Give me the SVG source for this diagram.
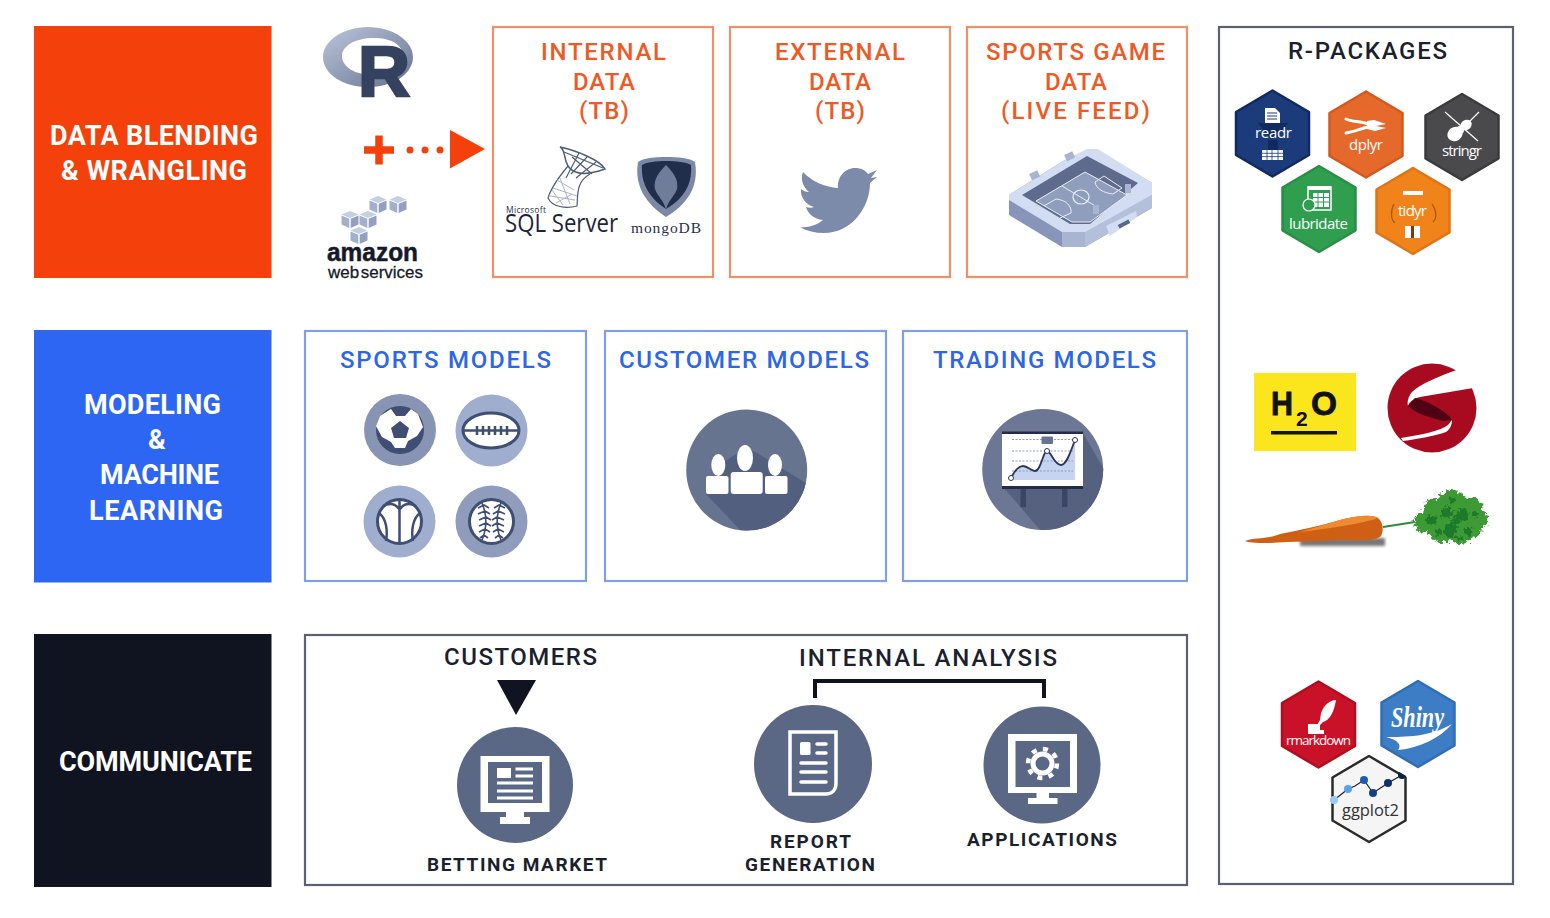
<svg xmlns="http://www.w3.org/2000/svg" xmlns:xlink="http://www.w3.org/1999/xlink" width="1550" height="918" viewBox="0 0 1550 918">
<style>
text{font-family:"Roboto","Liberation Sans",sans-serif}
.lbl{font-size:24px;font-weight:500}
.or{fill:#ee5a25}.bl{fill:#2d66e6}.dk{fill:#1b1f2e}
.head{font-size:27px;font-weight:700;fill:#fff}
.sub{font-size:19px;font-weight:700;fill:#1b1f2e}
.oBox{fill:#fff;stroke:#f0906a;stroke-width:2.2}
.bBox{fill:#fff;stroke:#7f9fe6;stroke-width:2.2}
.gBox{fill:#fff;stroke:#5c6074;stroke-width:2.2}
.hx{font-size:15px;fill:#fff;font-family:"Open Sans","Liberation Sans",sans-serif}
.w{fill:#fff}.ws{fill:none;stroke:#fff}
.sl{fill:#5a6885}
.ib{fill:none;stroke:#3f4e72;stroke-width:3}
</style>
<defs>
<polygon id="hex" points="0,-43 36.500,-21.500 36.500,21.500 0,43 -36.500,21.500 -36.500,-21.500" stroke-width="2.500" stroke-linejoin="round"/>
<g id="cube"><polygon points="0,-7 8.500,-3.500 0,0 -8.500,-3.500" fill="#c4cee4"/><polygon points="-8.500,-2.500 -0.700,0.800 -0.700,10 -8.500,6.500" fill="#a3afcb"/><polygon points="8.500,-2.500 0.700,0.800 0.700,10 8.500,6.500" fill="#93a0bf"/></g>
<linearGradient id="rg" x1="0" y1="0" x2="1" y2="1"><stop offset="0" stop-color="#bcc6dc"/><stop offset="1" stop-color="#66718f"/></linearGradient>
<clipPath id="cC"><circle cx="746.700" cy="470" r="60.500"/></clipPath>
<clipPath id="cT"><circle cx="1042.700" cy="469.500" r="60.500"/></clipPath>
<clipPath id="cG"><polygon points="1369,755 1408,777 1408,821 1369,843 1330,821 1330,777"/></clipPath>
<filter id="frill" x="-20%" y="-20%" width="140%" height="140%"><feTurbulence type="fractalNoise" baseFrequency="0.28" numOctaves="2" seed="4"/><feDisplacementMap in="SourceGraphic" scale="9" xChannelSelector="R" yChannelSelector="G"/></filter>
<filter id="soft" x="-20%" y="-100%" width="140%" height="300%"><feGaussianBlur stdDeviation="1.500"/></filter>
</defs>
<rect width="1550" height="918" fill="#fff"/>

<g id="data-blending"><rect x="34" y="26" width="237.500" height="252" fill="#f4400a"/>
<text class="head" x="50" y="145" textLength="208">DATA BLENDING</text>
<text class="head" x="61" y="180" textLength="186">&amp; WRANGLING</text></g>
<g id="modeling"><rect x="34" y="330" width="237.500" height="252.500" fill="#2c66f2"/>
<text class="head" x="84" y="414" textLength="137">MODELING</text>
<text class="head" x="148" y="449" textLength="16">&amp;</text>
<text class="head" x="100" y="484" textLength="119">MACHINE</text>
<text class="head" x="89" y="520" textLength="134">LEARNING</text></g>
<g id="communicate"><rect x="34" y="634" width="237.500" height="253" fill="#101420"/>
<text class="head" x="59" y="771" textLength="193">COMMUNICATE</text></g>

<g id="r-logo">
<path fill-rule="evenodd" fill="url(#rg)" d="M368,27C343,27 323,41 323,57C323,74 343,87 368,87C393,87 413,74 413,57C413,41 393,27 368,27ZM374,38C355,38 342,46 342,56C342,67 355,75 374,75C393,75 403,67 403,56C403,46 393,38 374,38Z"/>
<text x="358" y="95.500" font-size="70" font-weight="700" fill="#35425f" stroke="#35425f" stroke-width="2.500" style="font-family:'Liberation Sans',sans-serif" textLength="52" lengthAdjust="spacingAndGlyphs">R</text>
</g>
<g id="aws">
<use xlink:href="#cube" x="378" y="203"/><use xlink:href="#cube" x="398" y="203"/><use xlink:href="#cube" x="350" y="218"/><use xlink:href="#cube" x="368" y="218"/><use xlink:href="#cube" x="359" y="234"/>
<text x="327" y="261" font-size="25" font-weight="700" fill="#15192a" stroke="#15192a" stroke-width=".5" style="font-family:'Liberation Sans',sans-serif" textLength="91" lengthAdjust="spacingAndGlyphs">amazon</text>
<text x="328" y="278" font-size="17" fill="#15192a" stroke="#15192a" stroke-width=".3" style="font-family:'Liberation Sans',sans-serif;word-spacing:-3px" textLength="95" lengthAdjust="spacingAndGlyphs">web services</text>
</g>

<g id="internal-data"><rect class="oBox" x="493" y="27" width="220" height="250"/>
<text class="lbl or" x="541" y="60" textLength="125">INTERNAL</text>
<text class="lbl or" x="573" y="90" textLength="62">DATA</text>
<text class="lbl or" x="579" y="119" textLength="50">(TB)</text>
<g id="sql-logo" fill="none">
<path d="M560,147C566,150 563,158 568,166C573,174 585,176 605,169C600,160 575,150 560,147Z" stroke-width="1.500" stroke="#4f5c78"/>
<path d="M568,166C558,178 551,188 548,198C552,207 566,209 577,206C578,194 576,182 590,174M572,157L592,174M579,153L566,178M587,157L571,174M596,162L576,178M564,152L603,168" stroke="#4f5c78" stroke-width="1.200"/>
<path d="M550,196L575,200M553,188L577,196M557,180L574,190M556,203L572,194M563,205L552,190M570,204L560,178" stroke="#aab4c8"/>
</g>
<text x="506" y="213" font-size="8.500" fill="#2b3248" style="font-family:'Open Sans',sans-serif" textLength="40">Microsoft</text>
<text x="505" y="232" font-size="26" fill="#1c2438" style="font-family:'Open Sans',sans-serif" textLength="113" lengthAdjust="spacingAndGlyphs">SQL Server</text>
<g id="mongo-logo">
<path d="M666,157C678,157 690,158 695,162C698,180 694,200 666,217C640,200 635,180 638,162C643,158 655,157 666,157Z" fill="#7c88a6"/>
<path d="M666,161C676,161 686,162 691,165C692,180 688,196 666,209C646,196 641,180 642,165C647,162 656,161 666,161Z" fill="#202d4b"/>
<path d="M666,165C673,172 679,180 677,189C675,196 668,200 666,210C664,200 657,196 655,189C653,180 659,172 666,165Z" fill="#6f7d9a"/>
</g>
<text x="631" y="233" font-size="15.500" fill="#2b3248" style="font-family:'Liberation Serif',serif" textLength="70">mongoDB</text>
</g>

<g id="external-data"><rect class="oBox" x="730" y="27" width="220" height="250"/>
<text class="lbl or" x="775" y="60" textLength="130">EXTERNAL</text>
<text class="lbl or" x="809" y="90" textLength="62">DATA</text>
<text class="lbl or" x="815" y="119" textLength="50">(TB)</text>
<path fill="#7d8bab" d="M803,172C812,182 826,187 838,188C837,177 845,168 855,168C861,168 865,170 868,174L877,170L871,178L877,177L870,183C870,207 852,233 824,233C815,233 807,231 800,227C808,228 817,225 823,220C814,219 808,214 806,207C809,208 812,208 814,207C806,205 800,197 801,189C803,191 806,192 809,192C803,187 800,179 803,172Z"/>
</g>

<g id="sports-game-data"><rect class="oBox" x="967" y="27" width="220" height="250"/>
<text class="lbl or" x="986" y="60" textLength="179">SPORTS GAME</text>
<text class="lbl or" x="1045" y="90" textLength="62">DATA</text>
<text class="lbl or" x="1001" y="119" textLength="149">(LIVE FEED)</text>
<g id="stadium">
<polygon points="1009,195 1009,215 1062,247 1085,247 1152,208 1152,183 1098,150 1087,150 1063,161" fill="#8796b8"/>
<polygon points="1062,231 1062,247 1085,247 1085,231" fill="#a8b5d2"/>
<polygon points="1085,231 1085,247 1152,208 1152,195" fill="#b4c0da"/>
<polygon points="1009,195 1063,161 1087,149 1098,149 1152,183 1152,195 1085,232 1062,232 1009,200" fill="#d2dcf2"/>
<polygon points="1022,195 1087,156 1138,183 1090,224 1070,224" fill="#5f6b8c"/>
<polygon points="1036,201 1085,172 1127,195 1090,222 1072,222" fill="#909ebd"/>
<path d="M1036,201L1085,172L1127,195L1090,222L1072,222ZM1062,186L1097,207M1044,206L1056,199C1066,200 1072,206 1071,213L1060,218M1095,182L1104,176L1122,188L1113,194C1104,193 1096,189 1095,182Z" fill="none" stroke="#e8edf8" stroke-width="1"/>
<ellipse cx="1081" cy="197" rx="8" ry="7" fill="none" stroke="#e8edf8" stroke-width="1.200"/>
<rect x="1030" y="172" width="9" height="7" fill="#a8b5d2" transform="rotate(-25 1034 175)"/>
<rect x="1065" y="153" width="9" height="7" fill="#a8b5d2" transform="rotate(-25 1069 156)"/>
<rect x="1125" y="184" width="6" height="9" fill="#a8b5d2"/><rect x="1093" y="205" width="6" height="9" fill="#a8b5d2"/>
<polygon points="1106,226 1136,211 1137,217 1110,236" fill="#d2dcf2"/>
<rect x="1118" y="222" width="12" height="4" fill="#5a6885" transform="rotate(-28 1124 224)"/>
</g>
</g>

<g id="sports-models"><rect class="bBox" x="305" y="331" width="281" height="250"/>
<text class="lbl bl" x="340" y="368" textLength="211">SPORTS MODELS</text>
<g id="soccer"><circle cx="400" cy="430" r="36" fill="#8794b4"/><circle cx="400" cy="430" r="24" fill="#3f4e72"/>
<path class="w" d="M391,410L396,417L405,417L411,410L418,415L423,428L417,437L408,442L405,449L395,449L391,443L382,438L376,427L380,417Z" transform="translate(0,-1)"/><polygon points="400,421 409,428 406,438 394,438 391,428" fill="#3f4e72"/></g>
<g id="football"><circle cx="491.500" cy="430.500" r="36" fill="#9fadcf"/><ellipse class="w" cx="491" cy="430.500" rx="28" ry="17.500"/><ellipse class="ib" cx="491" cy="430.500" rx="28" ry="17.500"/>
<path class="ib" style="stroke-width:2.500" d="M464,430.500H518M477,426V435M483,426V435M489,426V435M495,426V435M501,426V435M507,426V435"/>
<path fill="none" stroke="#3f4e72" stroke-width="2" d="M474,418C472,425 472,436 474,443M508,418C510,425 510,436 508,443" opacity="0"/></g>
<g id="basketball"><circle cx="399.500" cy="521.500" r="36" fill="#9fadcf"/><circle class="w" cx="399.500" cy="521.500" r="22"/><circle class="ib" cx="399.500" cy="521.500" r="22"/>
<path class="ib" style="stroke-width:2.500" d="M399.500,500V543M379,513C386,518 388,530 386,541M420,513C413,518 411,530 413,541M383,506C391,502 396,505 399,509M416,506C408,502 403,505 400,509"/></g>
<g id="baseball"><circle cx="491.500" cy="521.500" r="36" fill="#8f9cbc"/><circle class="w" cx="491.500" cy="521.500" r="22"/><circle class="ib" cx="491.500" cy="521.500" r="22"/>
<path class="ib" style="stroke-width:1.600" d="M482,503C487,515 487,528 482,540M501,503C496,515 496,528 501,540M478,508L484,505L489,508M478,514L485,511L490,514M479,520L486,517L491,520M479,526L486,523L491,526M479,532L485,529L490,532M480,538L484,535L488,538M494,508L499,505L505,508M493,514L498,511L505,514M492,520L497,517L504,520M492,526L497,523L504,526M493,532L498,529L504,532M495,538L499,535L503,538"/></g>
</g>

<g id="customer-models"><rect class="bBox" x="605" y="331" width="281" height="250"/>
<text class="lbl bl" x="619" y="368" textLength="250">CUSTOMER MODELS</text>
<circle cx="746.700" cy="470" r="60.500" fill="#67748f"/>
<polygon clip-path="url(#cC)" points="706,494 724,462 745,448 757,453 806,483 815,540 745,535" fill="#525f7e"/>
<g class="w"><ellipse cx="718.300" cy="465" rx="7" ry="11"/><ellipse cx="745" cy="458" rx="8" ry="13"/><ellipse cx="775" cy="465" rx="7" ry="11"/>
<rect x="706" y="476" width="22.500" height="18" rx="2"/><rect x="730.700" y="472" width="32" height="22" rx="3"/><rect x="765" y="476" width="22.500" height="18" rx="2"/></g>
</g>

<g id="trading-models"><rect class="bBox" x="903" y="331" width="284" height="250"/>
<text class="lbl bl" x="933" y="368" textLength="223">TRADING MODELS</text>
<circle cx="1042.700" cy="469.500" r="60.500" fill="#6b7794"/>
<polygon clip-path="url(#cT)" points="1003,487 1042,532 1110,535 1110,480 1083,433 1083,487" fill="#55617f"/>
<rect x="1020.500" y="487" width="5.500" height="20" fill="#3a4666"/><rect x="1062" y="487" width="5.500" height="20" fill="#3a4666"/>
<rect x="1002" y="432" width="81" height="55" fill="#fff"/>
<rect x="1002" y="431.500" width="81" height="2.500" fill="#232c45"/><rect x="1002" y="486" width="81" height="3" fill="#232c45"/>
<path d="M1011,478C1015,470 1019,466 1023,466C1028,466 1031,471 1035,471C1041,471 1043,451 1047,451C1051,451 1054,465 1061,465C1067,465 1071,450 1075,440V480H1011Z" fill="#c6d4f2"/>
<path d="M1012,439.500H1073M1012,451H1073M1012,461H1073M1012,471H1073" stroke="#8f9dbd" stroke-dasharray="2 1.500" fill="none"/>
<path d="M1011,478C1015,470 1019,466 1023,466C1028,466 1031,471 1035,471C1041,471 1043,451 1047,451C1051,451 1054,465 1061,465C1067,465 1071,450 1075,440" fill="none" stroke="#2b3654" stroke-width="1.800"/>
<circle cx="1011" cy="478" r="2.500" fill="#fff" stroke="#2b3654"/><circle cx="1047" cy="451" r="2.500" fill="#fff" stroke="#2b3654"/><circle cx="1075" cy="440" r="2.500" fill="#fff" stroke="#2b3654"/>
<rect x="1041.500" y="436.500" width="11.500" height="7.500" rx="1" fill="#67748f"/>
</g>

<g id="communicate-box"><rect class="gBox" x="305" y="635" width="882" height="250"/>
<text class="lbl dk" x="444" y="665" textLength="153">CUSTOMERS</text>
<text class="lbl dk" x="799" y="666" textLength="258">INTERNAL ANALYSIS</text></g>

<g id="betting-market"><circle class="sl" cx="515" cy="785" r="58"/>
<rect class="w" x="480.500" y="756" width="69" height="56"/><rect class="sl" x="488" y="762" width="54" height="41"/>
<path class="w" d="M506,812H524V817H530V824H500V817H506Z"/>
<rect class="w" x="497" y="768" width="14" height="10"/>
<path class="ws" stroke-width="2.800" d="M515.500,769H533M515.500,776H533M497,783H533M497,791H533M497,798H533"/>
<text class="sub" x="427" y="871" textLength="180">BETTING MARKET</text></g>

<g id="report-generation"><circle class="sl" cx="813" cy="764" r="59"/>
<path class="ws" stroke-width="3.500" d="M790,732H836V783C836,790 832,794 826,794H790Z"/>
<rect class="w" x="800" y="742" width="10.500" height="13" rx="1.500"/>
<path class="ws" stroke-width="3.500" stroke-linecap="round" d="M817,744H826M817,753H826M801,763H826M801,772H826M801,782H826"/>
<text class="sub" x="770" y="848" textLength="81">REPORT</text>
<text class="sub" x="745" y="871" textLength="130">GENERATION</text></g>

<g id="applications"><circle class="sl" cx="1042" cy="765" r="58.500"/>
<rect class="w" x="1008" y="734" width="69" height="59"/><rect class="sl" x="1015.500" y="741" width="54.500" height="46"/>
<path class="w" d="M1036.500,793H1049V798H1057.500V804H1028V798H1036.500Z"/>
<circle cx="1042.500" cy="763.500" r="14.500" fill="none" stroke="#fff" stroke-width="4.500" stroke-dasharray="5 6.380"/>
<circle cx="1042.500" cy="763.500" r="9.500" fill="none" stroke="#fff" stroke-width="5"/>
<text class="sub" x="967" y="846" textLength="150">APPLICATIONS</text></g>

<g id="r-packages"><rect class="gBox" x="1219" y="27" width="294" height="857"/>
<text class="lbl dk" x="1288" y="59" textLength="159">R-PACKAGES</text></g>

<g id="readr"><use xlink:href="#hex" x="1272.500" y="133.500" fill="#1b3b7a" stroke="#122a60"/>
<polygon points="1258,123 1288,123 1276,138 1270,138" fill="#122a60"/><polygon points="1268,140 1278,140 1278,151 1268,151" fill="#122a60"/>
<path class="w" d="M1265,108H1275L1280,113V123H1265Z"/>
<path d="M1267,113H1277M1267,116H1277M1267,119H1277" stroke="#1b3b7a"/>
<rect class="w" x="1262" y="150" width="21" height="10"/><path d="M1262,153.300H1283M1262,156.600H1283M1267,150V160M1272,150V160M1278,150V160" stroke="#1b3b7a" stroke-width=".8"/>
<text class="hx" x="1255" y="138" textLength="37">readr</text></g>

<g id="dplyr"><use xlink:href="#hex" x="1366" y="134.500" fill="#e4692b" stroke="#d25a1f"/>
<path class="ws" stroke-width="3" stroke-linecap="round" d="M1346,119C1352,122 1360,121 1368,124M1346,133C1353,132 1360,129 1368,127"/>
<polygon class="w" points="1367,121 1374,120 1386,124 1376,126 1386,128 1375,131 1367,129"/>
<text class="hx" x="1349" y="150" textLength="34">dplyr</text></g>

<g id="stringr"><use xlink:href="#hex" x="1462" y="137" fill="#4a4a4c" stroke="#3b3b3d"/>
<ellipse class="w" cx="1455" cy="134" rx="8" ry="7" transform="rotate(-35 1455 134)"/><ellipse class="w" cx="1466" cy="125" rx="6" ry="5" transform="rotate(-35 1466 125)"/><circle class="w" cx="1460" cy="130" r="4"/>
<path class="ws" stroke-width="1.200" d="M1445,112L1478,141M1479,112L1466,125"/>
<text class="hx" x="1442" y="156" textLength="40">stringr</text></g>

<g id="lubridate"><use xlink:href="#hex" x="1319" y="209" fill="#2f9e4f" stroke="#2a8e46"/>
<path class="ws" stroke-width="1.500" d="M1308,187H1331V210H1308Z"/><rect class="w" x="1308" y="186" width="23" height="4"/>
<path class="w" d="M1313,193H1329V207H1313Z"/><path d="M1313,197.500H1329M1313,202H1329M1318,193V207M1323.500,193V207" stroke="#2f9e4f"/>
<circle cx="1309" cy="205" r="6" fill="#2f9e4f" stroke="#fff" stroke-width="1.200"/>
<text class="hx" x="1289" y="229" textLength="59">lubridate</text></g>

<g id="tidyr"><use xlink:href="#hex" x="1413" y="211" fill="#f0831a" stroke="#dd7415"/>
<rect class="w" x="1403" y="191" width="20" height="4"/>
<path fill="none" stroke="#a5540c" stroke-width="1.200" d="M1394,204C1390,211 1391,220 1395,223M1432,204C1437,211 1437,218 1433,222"/>
<rect class="w" x="1405" y="226" width="6" height="12"/><rect class="w" x="1414" y="226" width="6" height="12"/><rect x="1411" y="226" width="3" height="12" fill="#7a3a10"/>
<text class="hx" x="1398" y="216" textLength="29">tidyr</text></g>

<g id="h2o"><rect x="1254" y="373" width="102" height="78" fill="#fbe61e"/>
<text x="1271" y="415" font-size="33" font-weight="700" fill="#111" stroke="#111" stroke-width=".8" style="font-family:'Liberation Sans',sans-serif" textLength="22" lengthAdjust="spacingAndGlyphs">H</text>
<text x="1296" y="426" font-size="21" font-weight="700" fill="#111" style="font-family:'Liberation Sans',sans-serif">2</text>
<text x="1311" y="415" font-size="33" font-weight="700" fill="#111" stroke="#111" stroke-width=".8" style="font-family:'Liberation Sans',sans-serif" textLength="26" lengthAdjust="spacingAndGlyphs">O</text>
<rect x="1271" y="431" width="66" height="3.500" fill="#111"/></g>

<g id="sparklyr"><circle cx="1432" cy="408" r="44.500" fill="#a80b1f"/>
<path class="w" d="M1456.700,370C1440,376 1420,384 1412,392C1408,397 1407,402 1408,406C1410,401 1413,399 1420,397L1471.700,388.300L1480,372L1478,362Z"/>
<path d="M1408,406L1415,398C1425,400 1442,409 1450,417L1452,420L1443,421C1432,418 1416,414 1408,406Z" fill="#4e0213"/>
<path class="w" d="M1401,438C1420,435 1440,431 1448,425L1452,420C1452,426 1449,430 1446,432C1435,436 1418,439 1403,441Z"/></g>

<g id="carrot">
<rect x="1300" y="538" width="85" height="8" fill="#777" filter="url(#soft)"/>
<path d="M1383,527L1415,522" stroke="#2e8b3e" stroke-width="2" fill="none"/>
<path d="M1245,541C1255,537 1265,540 1280,534C1300,530 1320,526 1340,520C1355,516 1372,514 1378,518C1383,522 1384,530 1381,536C1376,541 1360,541 1345,540C1320,542 1290,541 1270,543C1260,543 1250,543 1245,541Z" fill="#cf5f14"/>
<path d="M1340,520C1355,516 1372,514 1378,518C1370,521 1350,526 1300,532Z" fill="#ee8a2f"/>
<g filter="url(#frill)"><g fill="#3c9a35"><circle cx="1425" cy="522" r="11"/><circle cx="1435" cy="510" r="12"/><circle cx="1452" cy="505" r="15"/><circle cx="1470" cy="510" r="13"/><circle cx="1479" cy="520" r="9"/><circle cx="1442" cy="530" r="13"/><circle cx="1460" cy="530" r="14"/><circle cx="1472" cy="528" r="10"/><circle cx="1450" cy="518" r="18"/></g>
<g fill="#1f7a2c"><circle cx="1432" cy="520" r="5"/><circle cx="1447" cy="512" r="6"/><circle cx="1463" cy="515" r="6"/><circle cx="1450" cy="530" r="7"/><circle cx="1468" cy="531" r="4"/><circle cx="1456" cy="520" r="4"/><circle cx="1476" cy="514" r="3"/><circle cx="1438" cy="532" r="3"/><circle cx="1460" cy="538" r="3"/><circle cx="1452" cy="500" r="3"/></g></g>
</g>

<g id="rmarkdown"><use xlink:href="#hex" x="1318.500" y="724.500" fill="#c91227" stroke="#b10d20"/>
<path class="w" d="M1336,700C1330,700 1324,705 1321,713L1320,720L1316,727L1318,727L1323,722C1330,720 1334,712 1336,700Z"/>
<path class="w" d="M1308,724H1320V730H1324V734H1308Z"/>
<text class="hx" style="font-size:13.500px" x="1286" y="745" textLength="65">rmarkdown</text></g>

<g id="shiny"><use xlink:href="#hex" x="1418" y="724" fill="#3d7dc6" stroke="#2f6db6"/>
<text x="1391" y="727" font-size="29" font-weight="700" font-style="italic" fill="#fff" style="font-family:'Liberation Serif',serif" textLength="53" lengthAdjust="spacingAndGlyphs">Shiny</text>
<path class="w" d="M1386,737C1405,737 1430,737 1452,724C1440,738 1420,748 1398,750C1402,745 1398,740 1386,737Z"/></g>

<g id="ggplot2"><use xlink:href="#hex" x="1369" y="799" fill="#f5f5f5" stroke="#2b2b2b" style="stroke-width:3"/>
<g clip-path="url(#cG)">
<path d="M1334,800L1348,789L1355,786L1364,780L1373,793L1388,783L1402,775" fill="none" stroke="#1b1f2e" stroke-width="1.200"/>
<circle cx="1334" cy="800" r="4" fill="#9cc9f8"/><circle cx="1348" cy="789" r="4" fill="#5aa0ee"/><circle cx="1364" cy="780" r="4" fill="#1e5bb0"/><circle cx="1373" cy="793" r="4" fill="#173f88"/><circle cx="1388" cy="783" r="4" fill="#14306a"/><circle cx="1402" cy="775" r="4" fill="#0e1f4a"/>
</g>
<text class="hx" style="font-size:16.500px;fill:#333" x="1342" y="816" textLength="57">ggplot2</text></g>

<g id="connectors">
<path d="M364,150H394M379,135.500V164.500" fill="none" stroke="#f4400a" stroke-width="7.500"/>
<circle cx="410" cy="150" r="3.500" fill="#f4400a"/><circle cx="425" cy="150" r="3.500" fill="#f4400a"/><circle cx="440" cy="150" r="3.500" fill="#f4400a"/>
<polygon points="450,130 485,149 450,168.500" fill="#f4400a"/>
<polygon points="497,680 536,680 516,715" fill="#101420"/>
<path d="M815,698V681H1044V698" fill="none" stroke="#101420" stroke-width="4"/>
</g>
</svg>
